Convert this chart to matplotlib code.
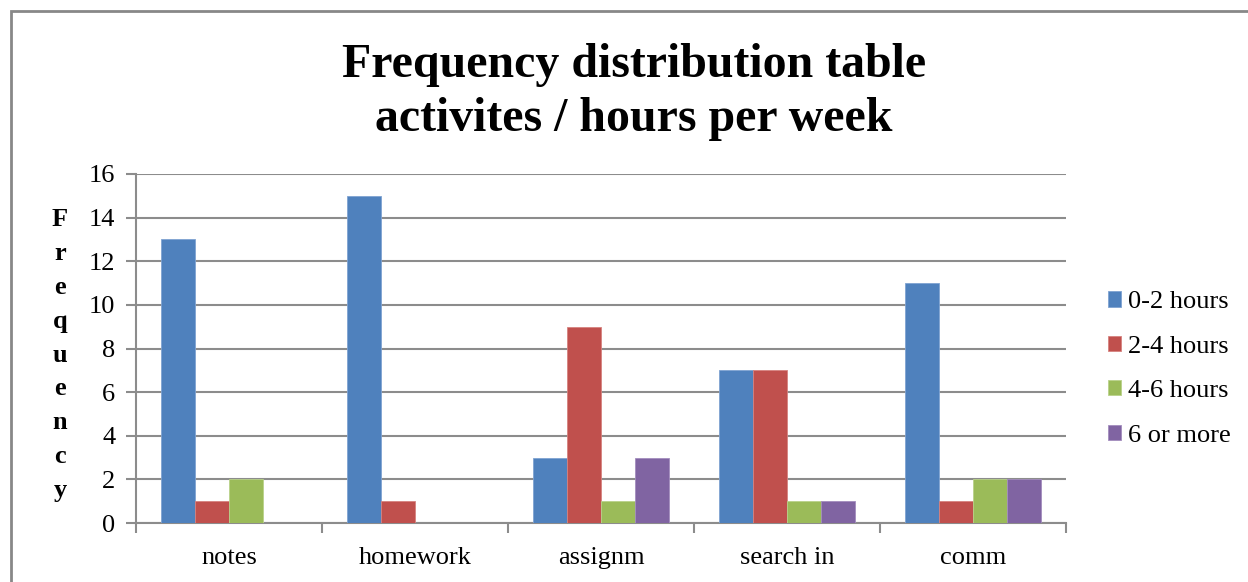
import numpy as np
import matplotlib.pyplot as plt
from matplotlib.patches import Rectangle

categories = ["notes", "homework", "assignm", "search in", "comm"]
series_names = ["0-2 hours", "2-4 hours", "4-6 hours", "6 or more"]
counts_0_2 = [13, 15, 3, 7, 11]
counts_2_4 = [1, 1, 9, 7, 1]
counts_4_6 = [2, 0, 1, 1, 2]
counts_6_up = [0, 0, 3, 1, 2]
colors = ["#4F81BD", "#C0504D", "#9BBB59", "#8064A2"]
edge_colors = ["#7FA3D2", "#D6827F", "#B9D28A", "#A38DBE"]

serif = ["Liberation Serif", "DejaVu Serif"]
grid_gray = "#8C8C8C"

fig = plt.figure(figsize=(12.48, 5.82), dpi=100)
ax = fig.add_axes([136 / 1248, 1 - 523 / 582, (1066 - 136) / 1248, (523 - 174) / 582])

# chart area border (open on the right and bottom)
fig.add_artist(Rectangle((11 / 1248, -0.05), 1.2, 1 - 11 / 582 + 0.05,
                         transform=fig.transFigure, fill=False,
                         edgecolor="#888888", linewidth=2))

x = np.arange(len(categories))
width = 1 / 5.5  # gap width 150%
all_series = [counts_0_2, counts_2_4, counts_4_6, counts_6_up]
for i, (vals, name) in enumerate(zip(all_series, series_names)):
    ax.bar(x + (i - 1.5) * width, vals, width, color=colors[i],
           edgecolor=edge_colors[i], linewidth=0.6, label=name, zorder=3)

ax.set_xlim(-0.5, len(categories) - 0.5)
ax.set_ylim(0, 16)
ax.set_yticks(range(0, 17, 2))
ax.set_xticks(x)
ax.set_xticklabels(categories, family=serif, fontsize=19)
ax.set_xticks(np.arange(-0.5, len(categories)), minor=True)
ax.tick_params(axis="x", which="major", length=0, pad=17)
ax.tick_params(axis="x", which="minor", length=7, width=1.5, color=grid_gray)
ax.tick_params(axis="y", length=7, width=1.5, color=grid_gray, pad=8)
for lab in ax.get_yticklabels():
    lab.set_family(serif)
    lab.set_fontsize(19)

ax.grid(axis="y", color=grid_gray, linewidth=1.5, zorder=0)
for side in ["top", "right"]:
    ax.spines[side].set_visible(False)
for side in ["left", "bottom"]:
    ax.spines[side].set_color(grid_gray)
    ax.spines[side].set_linewidth(1.5)

fig.text(634 / 1248, 1 - 92 / 582, "Frequency distribution table\nactivites / hours per week",
         ha="center", va="center", family=serif, fontweight="bold",
         fontsize=34.5, linespacing=1.3)

fig.text(60 / 1248, 1 - 355 / 582, "\n".join("Frequency"), ha="center", va="center",
         family=serif, fontweight="bold", fontsize=19, linespacing=1.61)

ax.legend(loc="center left", bbox_to_anchor=(1095 / 1248, 1 - 369 / 582),
          bbox_transform=fig.transFigure, frameon=False, borderpad=0,
          prop={"family": serif, "size": 19}, handlelength=0.5, handleheight=0.5,
          handletextpad=0.25, labelspacing=0.85)

fig.savefig("out.png", dpi=100)
